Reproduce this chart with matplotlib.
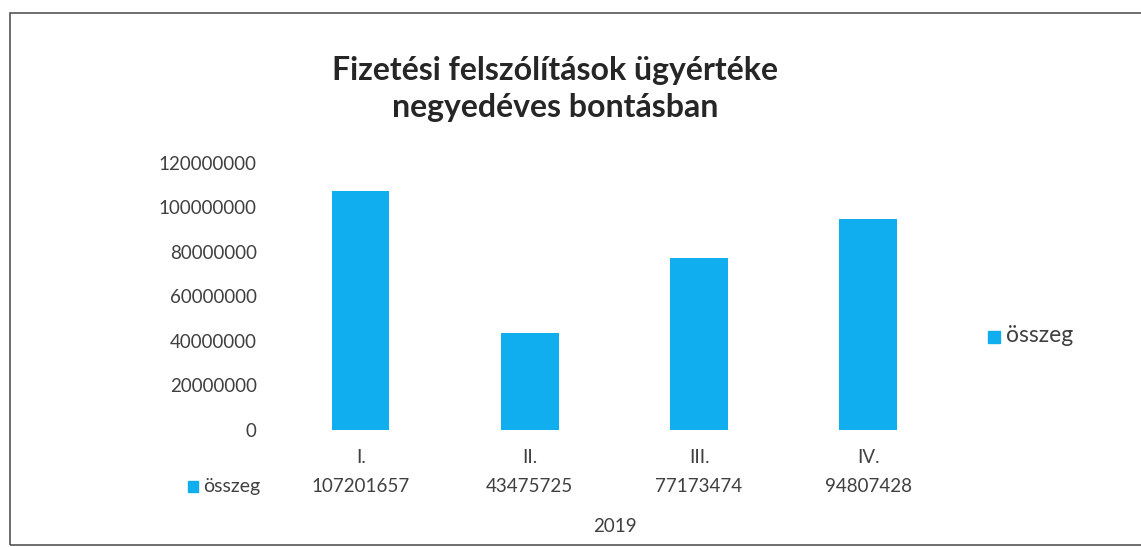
import matplotlib
matplotlib.use("Agg")
import matplotlib.pyplot as plt
from matplotlib.patches import Rectangle

categories = ["I.", "II.", "III.", "IV."]
values = [107201657, 43475725, 77173474, 94807428]
series_name = "összeg"
group_label = "2019"
title = "Fizetési felszólítások ügyértéke\nnegyedéves bontásban"
yticks = [0, 20000000, 40000000, 60000000, 80000000, 100000000, 120000000]

plt.rcParams['font.family'] = ['Lato', 'DejaVu Sans']
color = "#10AEEF"
textc = "#404040"

fig = plt.figure(figsize=(11.41, 5.47), dpi=100)
fig.patch.set_facecolor("white")
ax = fig.add_axes([0.242, 0.214, 0.593, 0.488])
x = list(range(len(categories)))
ax.bar(x, values, width=0.34, color=color)
ax.set_xlim(-0.5, len(categories) - 0.5)
ax.set_ylim(0, 120000000)
ax.set_yticks(yticks)
ax.set_yticklabels([str(v) for v in yticks], fontsize=13.5, color=textc)
ax.set_xticks(x)
ax.set_xticklabels(categories, fontsize=13.5, color=textc)
ax.tick_params(axis='both', length=0)
ax.tick_params(axis='y', pad=14)
ax.tick_params(axis='x', pad=14)
for s in ax.spines.values():
    s.set_visible(False)

# data table row
trans = ax.get_xaxis_transform()
for xi, v in zip(x, values):
    ax.text(xi, -0.213, str(v), transform=trans, ha='center', va='center',
            fontsize=13.5, color=textc)
ax.add_patch(Rectangle((-1.02, -0.233), 0.06, 0.04, transform=trans,
                       color=color, clip_on=False))
ax.text(-0.93, -0.213, series_name, transform=trans, ha='left', va='center',
        fontsize=14, color=textc)
ax.text(1.5, -0.363, group_label, transform=trans, ha='center', va='center',
        fontsize=13.5, color=textc)

# legend
fig.patches.append(Rectangle((988/1141, 1 - 343/547), 12/1141, 12/547,
                             transform=fig.transFigure, color=color))
fig.text(1006/1141, 1 - 336/547, series_name, ha='left', va='center',
         fontsize=16.5, color=textc)

fig.text(555/1141, 1 - 89/547, title, ha='center', va='center',
         fontsize=23, fontweight='bold', color="#262626", linespacing=1.3)

# frame
fig.patches.append(Rectangle((10/1141, 2/547), 1.2, 1 - 15/547,
                             transform=fig.transFigure, fill=False,
                             edgecolor="#555555", linewidth=1.2))

fig.savefig("out.png", dpi=100)
